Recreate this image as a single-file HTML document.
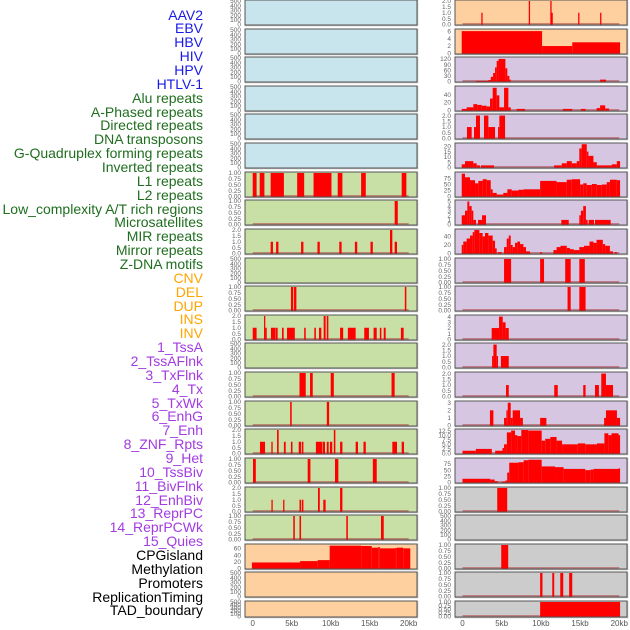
<!DOCTYPE html>
<html><head><meta charset="utf-8"><style>
body{margin:0;background:#fff;width:630px;height:630px;overflow:hidden;font-family:"Liberation Sans",sans-serif}
#labels div{position:absolute;right:427px;font-size:14px;line-height:14px;white-space:nowrap}
</style></head><body>
<div id="labels"></div>
<svg id="chart" width="630" height="630" style="position:absolute;left:0;top:0"></svg>
<script>
const trackNames=["AAV2","EBV","HBV","HIV","HPV","HTLV-1","Alu repeats","A-Phased repeats","Directed repeats","DNA transposons","G-Quadruplex forming repeats","Inverted repeats","L1 repeats","L2 repeats","Low_complexity A/T rich regions","Microsatellites","MIR repeats","Mirror repeats","Z-DNA motifs","CNV","DEL","DUP","INS","INV","1_TssA","2_TssAFlnk","3_TxFlnk","4_Tx","5_TxWk","6_EnhG","7_Enh","8_ZNF_Rpts","9_Het","10_TssBiv","11_BivFlnk","12_EnhBiv","13_ReprPC","14_ReprPCWk","15_Quies","CPGisland","Methylation","Promoters","ReplicationTiming","TAD_boundary"];
const trackGroups=["b","b","b","b","b","b","g","g","g","g","g","g","g","g","g","g","g","g","g","o","o","o","o","o","p","p","p","p","p","p","p","p","p","p","p","p","p","p","p","k","k","k","k","k"];
const xTickValues=[0,5,10,15,20];
const xTickLabels=["0","5kb","10kb","15kb","20kb"];
// left column data: [startKb,endKb,value]
const L6=[[0,0.5,1],[0.9,1.5,1],[2.3,4,1],[5.7,6.6,1],[7.8,10.1,1],[10.9,11.5,1],[13.9,14.5,1],[19.1,19.7,1]];
const L7=[[18.2,18.6,1]];
const L8=[[2.3,2.6,1],[3.0,3.3,1],[6.2,6.5,1],[8.3,8.6,1],[11.1,11.4,1],[13.1,13.4,1],[15.1,15.4,1],[17.6,17.9,2],[18.2,18.5,1]];
const L10=[[4.9,5.2,1],[5.3,5.6,1],[19.5,19.7,1]];
const L11=[[0,0.5,1],[1.45,1.6,2],[1.6,1.8,1],[2.34,2.86,1],[2.9,3.2,1],[3.76,3.97,1],[4.4,5.4,1],[6.6,6.8,1],[7.9,8.1,1],[8.5,8.8,1],[9.1,9.35,2],[9.5,9.7,2],[11.2,11.6,1],[12.2,13.2,1],[14.3,14.9,1],[15.5,15.9,1],[16.3,16.5,1],[16.8,17.05,1],[19.0,19.35,1]];
const L13=[[6.0,6.8,1],[7.35,7.7,1],[10.0,10.4,1],[17.8,18.2,1]];
const L14=[[4.8,5.0,1],[9.5,9.8,1]];
const L15=[[0.93,1.58,1],[2.39,2.56,1],[3.12,3.33,2],[4.0,4.23,1],[4.9,5.1,1],[5.9,6.2,1],[6.3,6.5,1],[8.1,8.9,1],[8.97,9.27,1],[9.5,9.74,1],[9.9,10.2,1],[10.4,10.6,2],[11.2,11.5,1],[13.2,13.5,1],[14.2,14.5,1],[17.9,18.5,1],[19.1,19.4,1]];
const L16=[[0.04,0.4,1],[7.05,7.4,1],[10.55,10.98,1],[15.4,15.9,1]];
const L17=[[2.4,2.56,1],[3.9,4.06,1],[6.0,6.2,1],[6.3,6.5,1],[8.37,8.6,2],[9.05,9.35,1],[11.2,11.5,2]];
const L18=[[5.2,5.4,1],[6.0,6.2,1],[12.0,12.2,1],[16.45,16.8,1]];
const L19=[[-0.1,6.07,18],[6.07,8.33,22],[8.33,9.87,25],[9.87,13.9,68],[13.9,15.26,67],[15.26,16.1,62],[16.1,16.3,64],[16.3,18.25,60],[18.25,18.46,61],[18.46,19.3,62],[19.3,20.2,60]];
// right column data
const R0=[[2.4,2.55,1],[8.45,8.6,2],[11.2,11.35,2],[11.35,11.45,1],[14.75,14.9,1],[17.55,17.7,1]];
const R1=[[-0.1,10.15,6],[10.15,14.0,2],[14.0,20.1,3]];
const R2=[[1.7,3.3,3],[3.3,3.6,8],[3.6,3.9,25],[3.9,4.15,45],[4.15,4.36,75],[4.36,4.6,110],[4.6,5.47,120],[5.47,5.72,70],[5.72,5.98,30],[5.98,6.15,10],[17.55,18.3,10]];
const R3=[[-0.1,0.53,4],[0.53,1.38,8],[1.38,1.89,16],[1.89,2.45,14],[2.45,3.09,12],[3.09,3.51,10],[3.51,3.85,30],[3.85,4.36,57],[4.36,4.7,38],[4.7,5.3,8],[5.3,5.85,57],[5.85,6.15,8],[6.9,7.97,4],[12.8,14.0,4],[15.1,15.7,4],[17.1,17.55,6],[17.55,18.2,13],[18.2,18.7,5]];
const R4=[[0.57,1.17,1],[1.47,1.72,1],[1.72,2.23,2],[2.74,3.3,2],[3.3,4.15,1],[4.53,4.7,1],[4.7,5.43,2]];
const R5=[[-0.1,0.32,3],[0.32,1.38,6],[1.38,1.81,4],[1.81,2.23,2],[2.36,4.02,2],[11.68,12.66,2],[12.66,13.3,4],[13.3,13.94,6],[13.94,14.57,4],[14.57,14.9,6],[14.9,15.2,18],[15.2,15.85,22],[15.85,16.06,15],[16.06,16.7,11],[16.7,17.13,5],[17.13,19.04,2],[19.04,19.68,3],[19.68,20.1,6]];
const R6=[[-0.1,0.32,95],[0.32,0.96,80],[0.96,1.6,68],[1.6,2.02,55],[2.02,2.57,65],[2.57,3.09,72],[3.09,3.6,68],[3.6,3.85,30],[3.85,4.36,15],[4.36,5.2,8],[5.2,5.72,15],[5.72,6.28,30],[6.28,7.13,25],[7.13,7.77,28],[7.77,9.9,30],[9.9,12.0,65],[12.0,13.3,60],[13.3,13.94,70],[13.94,15.0,72],[15.0,15.4,50],[15.4,15.85,55],[15.85,16.5,48],[16.5,17.13,52],[17.13,17.77,48],[17.77,18.4,50],[18.4,18.8,60],[18.8,19.68,70],[19.68,20.1,68]];
const R7=[[-0.1,0.32,2],[0.32,0.62,3],[0.62,0.87,5],[0.87,1.17,4],[1.17,1.38,3],[1.38,1.72,1],[1.98,2.49,1],[2.49,3.0,2],[12.6,13.55,1],[14.9,15.1,2],[15.1,15.4,3],[15.4,15.74,4],[15.74,15.96,1],[16.1,16.77,1],[16.9,18.9,1]];
const R8=[[-0.1,0.1,20],[0.1,0.53,28],[0.53,0.96,35],[0.96,1.3,42],[1.3,1.51,50],[1.51,2.15,55],[2.15,2.57,48],[2.57,2.87,40],[2.87,3.3,48],[3.3,3.85,42],[3.85,4.15,30],[4.15,4.36,12],[4.49,5.0,3],[5.3,5.64,15],[5.64,5.9,35],[5.9,6.15,42],[6.15,6.4,20],[6.4,6.7,15],[6.7,7.0,25],[7.0,7.34,28],[7.34,7.77,22],[7.77,8.1,15],[8.1,8.62,5],[9.9,10.15,3],[11.6,12.0,8],[12.0,12.5,15],[12.5,13.3,18],[13.3,13.7,13],[13.7,14.2,10],[14.2,14.9,8],[14.9,15.5,15],[15.5,16.2,18],[16.2,16.7,28],[16.7,17.1,25],[17.1,17.9,32],[17.9,18.2,22],[18.2,18.8,18],[18.8,19.2,5],[19.4,19.7,3]];
const R9=[[5.3,6.2,1],[9.9,10.4,1],[13.1,13.8,1],[14.9,15.6,1]];
const R10=[[13.4,13.8,1],[14.9,15.7,1]];
const R11=[[3.72,4.66,2],[4.66,5.13,4],[5.13,5.5,3],[5.5,5.9,2]];
const R12=[[3.77,3.94,1],[3.94,4.36,2],[4.36,4.53,1],[4.9,5.9,1]];
const R13=[[5.55,5.9,1],[11.7,12.15,1],[15.4,15.7,1],[16.9,17.4,1],[17.7,18.3,2],[18.3,19.2,1]];
const R14=[[3.5,3.94,2],[5.3,5.6,1],[5.6,5.77,2],[5.77,6.15,3],[6.15,6.4,1],[6.4,7.34,2],[7.34,7.7,1],[9.9,10.7,1],[18.06,18.3,1],[18.3,19.7,2],[19.7,20.1,1]];
const R15=[[0,1.7,1.5],[1.7,3.74,2.5],[4.17,5.1,1.5],[5.1,5.3,3],[5.3,5.66,5],[5.66,6.2,11.5],[6.2,6.7,12.5],[6.7,7.0,10],[7.0,7.5,9.5],[7.5,8.4,13],[8.4,10.1,12.5],[10.1,10.55,7],[10.55,11.2,8],[11.2,12.0,9],[12.0,12.7,7],[12.7,14.7,5],[14.7,15.66,5.5],[15.66,17.15,5],[17.15,18.1,5.5],[18.1,18.6,11],[18.6,19.0,10],[19.0,19.9,11],[19.9,20.1,10]];
const R16=[[0,3.53,15],[3.53,4.1,12],[4.1,4.5,5],[5.0,5.45,3],[5.45,5.7,8],[5.7,5.96,40],[5.96,7.15,80],[7.15,7.8,82],[7.8,8.4,90],[8.4,10.1,92],[10.1,11.8,65],[11.8,12.9,62],[12.9,15.66,55],[15.66,16.3,50],[16.3,16.7,52],[16.7,19.9,55],[19.9,20.1,57]];
const R17=[[4.43,5.7,1]];
const R19=[[4.94,5.83,1]];
const R20=[[9.9,10.2,1],[11.45,11.7,1],[12.47,12.85,1],[13.6,14.0,1]];
const R21=[[9.9,20.1,1]];
const T500=[0,100,200,300,400,500], T1=[0,0.25,0.5,0.75,1], T2=[0,0.5,1,1.5,2];
const leftPanels=[
 [null,"b",500,T500],[null,"b",500,T500],[null,"b",500,T500],[null,"b",500,T500],[null,"b",500,T500],[null,"b",500,T500],
 [L6,"g",1,T1],[L7,"g",1,T1],[L8,"g",2,T2],[null,"g",500,T500],[L10,"g",1,T1],[L11,"g",2,T2],[null,"g",500,T500],
 [L13,"g",1,T1],[L14,"g",1,T1],[L15,"g",2,T2],[L16,"g",1,T1],[L17,"g",2,T2],[L18,"g",1,T1],
 [L19,"o",70,[0,20,40,60]],[null,"o",500,T500],[null,"o",500,T500]];
const rightPanels=[
 [R0,"o",2,T2],[R1,"o",6.3,[0,2,4,6]],[R2,"p",125,[0,30,60,90,120]],[R3,"p",59,[0,20,40]],[R4,"p",2.05,T2],[R5,"p",22.2,[0,5,10,15,20]],[R6,"p",98,[0,25,50,75]],
 [R7,"p",5.1,[0,1,2,3,4,5]],[R8,"p",55,[0,20,40]],[R9,"p",1,T1],[R10,"p",1,T1],[R11,"p",4.1,[0,1,2,3,4]],[R12,"p",2.05,T2],[R13,"p",2.05,T2],[R14,"p",3.1,[0,1,2,3]],
 [R15,"p",12.8,[0,2.5,5,7.5,10,12.5]],[R16,"p",95,[0,25,50,75]],[R17,"k",1,T1],[null,"k",500,T500],[R19,"k",1,T1],[R20,"k",1,T1],[R21,"k",1,T1]];

const NS="http://www.w3.org/2000/svg";
const svg=document.getElementById("chart");
const bg={b:"#c8e4ec",g:"#c8e0a6",o:"#fed0a0",p:"#d6c6e2",k:"#cccccc"};
const labCol={b:"#1a1ae6",g:"#1f6e1f",o:"#ffa500",p:"#a23be0",k:"#000"};
function mk(tag,attrs){const e=document.createElementNS(NS,tag);for(const k in attrs)e.setAttribute(k,attrs[k]);svg.appendChild(e);return e;}
const colX=[245,455], colW=172, kb0=[252.7,462.5], pxPerKb=[7.8,7.84];
function xs(c,kb){return kb0[c]+kb*pxPerKb[c];}
function fmt(v,t){if(t===T1)return v.toFixed(2);if(t===T2||t[1]===2.5)return v.toFixed(1);return String(v);}
function drawCol(c,panels){
 panels.forEach((p,i)=>{
  const [data,g,ymax,ticks]=p;
  const top=Math.round(i*28.62), h=(i===21?16:25), x=colX[c];
  const base=top+h-0.5, ih=h-1.5;
  const ys=v=>base-Math.max(0,Math.min(v/ymax,1))*ih;
  let r=mk("rect",{x:x+0.5,y:top+0.5,width:colW,height:h,fill:bg[g],stroke:"#bbb","stroke-width":1.5});
  
  
  r=mk("rect",{x:x,y:top,width:colW,height:h,fill:bg[g],stroke:"#555","stroke-width":1});
  
  
  ticks.forEach(tv=>{
   const t=mk("text",{x:colX[c]-4,y:ys(tv)+2.2,"font-size":6.5,fill:"#666","text-anchor":"end","font-family":"Liberation Sans, sans-serif"});
   t.textContent=fmt(tv,ticks);
   
   
  });
  if(data){
   const bl=mk("rect",{x:xs(c,0),y:base-1.5,width:xs(c,20)-xs(c,0),height:1.5,fill:"#b04040","fill-opacity":0.55});
   
   
   data.forEach(d=>{
    const x0=Math.max(x+0.5,xs(c,d[0])), x1=Math.min(x+colW-0.5,xs(c,d[1]));
    const y=ys(d[2]);
    const b=mk("rect",{x:x0,y:y,width:Math.max(x1-x0,1.3),height:base-y,fill:"#ff0000"});
    
    
   });
  }
 });
 xTickValues.forEach((v,j)=>{
  const t=mk("text",{x:xs(c,v),y:626,"font-size":8,fill:"#555","text-anchor":"middle","font-family":"Liberation Sans, sans-serif"});
  t.textContent=xTickLabels[j];
  
  
 });
}
drawCol(0,leftPanels);drawCol(1,rightPanels);
const lab=document.getElementById("labels");
trackNames.forEach((n,i)=>{
 const d=document.createElement("div");
 d.textContent=n;
 d.style.top=(15+i*13.86-7.5)+"px";
 d.style.color=labCol[trackGroups[i]];
 
 
 lab.appendChild(d);
});
</script>
</body></html>
